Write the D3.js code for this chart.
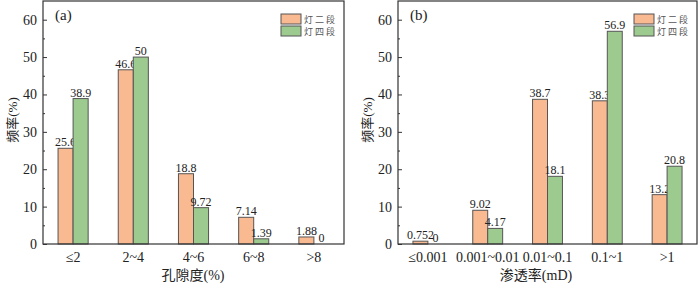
<!DOCTYPE html>
<html>
<head>
<meta charset="utf-8">
<script src="https://cdn.jsdelivr.net/npm/d3@7"></script>
<style>
  body { margin: 0; background: #fff; }
  svg text { font-family: "Liberation Serif", "Times New Roman", serif; fill: #222; }
  .cjk { font-family: "Noto Sans CJK SC", sans-serif; }
</style>
</head>
<body>
<svg id="chart" width="700" height="286"></svg>
<script>
var seriesNames = ['灯二段', '灯四段'];
var colors = ['#f9b991', '#9dcb8f'];

var poroCats = ['≤2', '2~4', '4~6', '6~8', '>8'];
var poroD2 = [25.6, 46.6, 18.8, 7.14, 1.88];
var poroD4 = [38.9, 50, 9.72, 1.39, 0];

var permCats = ['≤0.001', '0.001~0.01', '0.01~0.1', '0.1~1', '>1'];
var permD2 = [0.752, 9.02, 38.7, 38.3, 13.2];
var permD4 = [0, 4.17, 18.1, 56.9, 20.8];

var yTicks = [0, 10, 20, 30, 40, 50, 60];
var yMinor = [5, 15, 25, 35, 45, 55];

var svg = d3.select('#chart');

function panel(left, right, cats, s1, s2, tag, xTitle, xTitleX) {
  var top = 1, bottom = 244;
  var g = svg.append('g');

  var x = d3.scaleBand().domain(cats).range([left, right]).padding(0);
  var y = d3.scaleLinear().domain([0, 65]).range([bottom, top]);
  var bw = x.bandwidth() * 0.25;

  // bars + value labels
  [s1, s2].forEach(function(vals, si) {
    g.append('g').selectAll('rect')
      .data(vals)
      .enter()
        .append('rect')
        .attr('x', function(d, i) { return x(cats[i]) + x.bandwidth() / 2 - bw + si * bw; })
        .attr('y', function(d) { return y(d); })
        .attr('width', bw)
        .attr('height', function(d) { return bottom - y(d); })
        .attr('fill', colors[si])
        .attr('stroke', '#555')
        .attr('stroke-width', 1);

    g.append('g').selectAll('text')
      .data(vals)
      .enter()
        .append('text')
        .attr('x', function(d, i) { return x(cats[i]) + x.bandwidth() / 2 - bw / 2 + si * bw; })
        .attr('y', function(d) { return y(d) - 2; })
        .attr('text-anchor', 'middle')
        .attr('font-size', 12)
        .text(function(d) { return d; });
  });

  // frame
  g.append('rect')
    .attr('x', left).attr('y', top)
    .attr('width', right - left).attr('height', bottom - top)
    .attr('fill', 'none').attr('stroke', '#333').attr('stroke-width', 1.2);

  // y axis, ticks pointing inward
  var yAxis = g.append('g')
    .attr('transform', 'translate(' + left + ',0)')
    .call(d3.axisRight(y).tickValues(yTicks).tickSize(4).tickFormat(''));
  yAxis.select('.domain').remove();
  yAxis.selectAll('line').attr('stroke', '#333');

  var yMin = g.append('g')
    .attr('transform', 'translate(' + left + ',0)')
    .call(d3.axisRight(y).tickValues(yMinor).tickSize(2).tickFormat(''));
  yMin.select('.domain').remove();
  yMin.selectAll('line').attr('stroke', '#333');

  g.append('g').selectAll('text')
    .data(yTicks)
    .enter()
      .append('text')
      .attr('x', left - 6)
      .attr('y', function(d) { return y(d) + 5; })
      .attr('text-anchor', 'end')
      .attr('font-size', 14)
      .text(function(d) { return d; });

  // x tick labels
  g.append('g').selectAll('text')
    .data(cats)
    .enter()
      .append('text')
      .attr('x', function(d) { return x(d) + x.bandwidth() / 2; })
      .attr('y', 262)
      .attr('text-anchor', 'middle')
      .attr('font-size', 14)
      .text(function(d) { return d; });

  g.append('text')
    .attr('x', xTitleX)
    .attr('y', 280)
    .attr('text-anchor', 'middle')
    .attr('font-size', 14)
    .html('<tspan class="cjk">' + xTitle[0] + '</tspan>' + xTitle[1]);

  g.append('text')
    .attr('transform', 'translate(' + (left - 26) + ',120) rotate(-90)')
    .attr('text-anchor', 'middle')
    .attr('font-size', 13)
    .html('<tspan class="cjk">频率</tspan>(%)');

  g.append('text')
    .attr('x', left + 12)
    .attr('y', 20)
    .attr('font-size', 15)
    .text(tag);

  // legend
  var lx = right - 63;
  seriesNames.forEach(function(name, i) {
    g.append('rect')
      .attr('x', lx).attr('y', 14 + i * 12)
      .attr('width', 20).attr('height', 10)
      .attr('fill', colors[i]).attr('stroke', '#555');
    g.append('text')
      .attr('class', 'cjk')
      .attr('x', lx + 23).attr('y', 22.5 + i * 12)
      .attr('font-size', 9)
      .attr('letter-spacing', 2)
      .style('fill', '#555')
      .text(name);
  });
}

panel(43, 344, poroCats, poroD2, poroD4, '(a)', ['孔隙度', '(%)'], 193);
panel(398, 697, permCats, permD2, permD4, '(b)', ['渗透率', '(mD)'], 536);
</script>
</body>
</html>
